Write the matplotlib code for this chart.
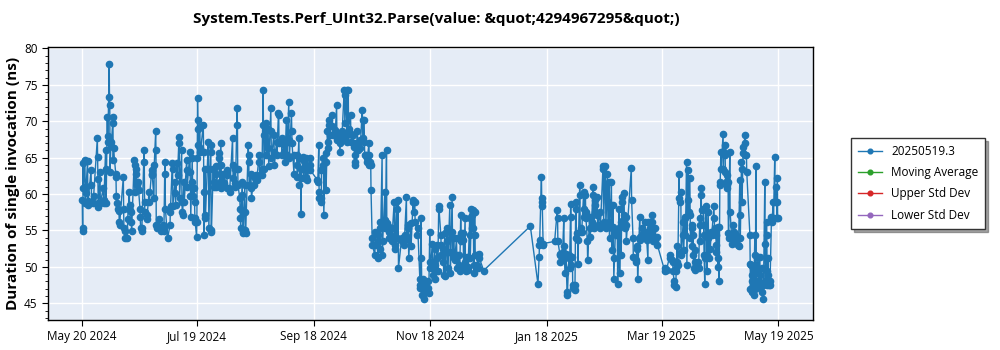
import datetime as dt
import matplotlib
matplotlib.use("Agg")
import matplotlib.pyplot as plt
import matplotlib.dates as mdates
from matplotlib.ticker import FixedLocator, MultipleLocator

plt.rcParams['font.family'] = ['Open Sans', 'DejaVu Sans']

title = 'System.Tests.Perf_UInt32.Parse(value: &quot;4294967295&quot;)'
y_label = 'Duration of single invocation (ns)'
series_labels = ['20250519.3', 'Moving Average', 'Upper Std Dev', 'Lower Std Dev']
series_colors = ['#1f77b4', '#2ca02c', '#d62728', '#9467bd']
x_tick_dates = ['2024-05-20', '2024-07-19', '2024-09-18', '2024-11-18',
                '2025-01-18', '2025-03-19', '2025-05-19']

start_date = dt.datetime(2024, 5, 20)

# Day offset (from start_date) of each batch of runs, and the durations (ns) measured in it
batch_day = [
    0.0, 1.4, 2.8, 4.6, 5.8, 7.9, 9.3, 11.0, 12.2, 13.1, 14.1, 15.0, 15.9, 17.5, 18.3, 19.2,
    21.5, 22.3, 23.6, 24.6, 25.5, 27.2, 28.1, 29.3, 30.2, 31.0, 32.3, 33.7, 34.9, 36.3, 37.5,
    38.4, 39.8, 41.1, 42.4, 43.2, 44.6, 45.9, 47.1, 48.5, 49.7, 50.6, 52.0, 53.2, 54.6, 56.3,
    57.5, 58.6, 59.8, 60.3, 61.5, 63.3, 64.1, 65.9, 67.1, 68.5, 69.9, 71.6, 72.5, 73.7, 75.5,
    76.9, 78.6, 79.8, 81.0, 82.4, 83.6, 85.0, 86.8, 88.2, 89.7, 91.1, 92.5, 93.8, 94.6, 96.0,
    97.2, 98.6, 100.2, 101.6, 102.6, 104.2, 105.6, 106.8, 108.0, 109.4, 110.7, 112.1, 113.3,
    114.3, 115.5, 116.8, 119.0, 123.0, 123.7, 124.8, 126.0, 127.2, 128.2, 129.1, 130.7, 132.1,
    133.0, 134.4, 135.6, 137.0, 138.2, 139.1, 140.3, 141.7, 142.5, 143.9, 145.2, 146.4, 147.4,
    148.6, 149.9, 150.7, 151.6, 153.0, 154.4, 155.6, 156.8, 158.2, 159.1, 160.3, 161.7, 163.1,
    164.3, 165.2, 167.0, 168.3, 169.5, 170.4, 171.8, 173.0, 173.9, 175.3, 176.5, 177.2, 178.1,
    179.1, 180.9, 181.7, 183.1, 184.3, 185.6, 186.4, 187.5, 188.7, 189.6, 190.8, 192.2, 193.4,
    194.4, 195.7, 197.1, 197.9, 199.1, 200.2, 201.4, 202.6, 203.5, 204.4, 205.2, 206.5, 207.5,
    209.9, 234.3, 238.3, 238.9, 240.1, 241.0, 247.0, 248.4, 249.7, 250.9, 251.8, 252.6, 253.5,
    254.5, 255.4, 256.3, 257.5, 258.0, 258.9, 260.1, 261.0, 262.2, 263.1, 264.1, 265.3, 266.2,
    267.1, 268.0, 269.2, 270.6, 272.3, 273.5, 274.6, 275.4, 276.7, 277.5, 278.8, 279.8, 280.7,
    281.5, 282.2, 283.3, 284.2, 287.1, 288.0, 289.2, 290.1, 291.5, 292.7, 294.1, 295.0, 295.8,
    296.7, 297.7, 299.4, 300.6, 304.6, 305.5, 307.3, 308.6, 309.5, 310.4, 311.1, 312.1, 313.0,
    314.2, 315.1, 316.0, 316.8, 317.7, 318.6, 319.4, 320.3, 322.0, 322.9, 323.5, 324.7, 325.5,
    326.4, 327.3, 328.2, 329.0, 330.3, 331.3, 332.2, 332.9, 333.4, 333.9, 335.1, 336.0, 336.9,
    337.7, 338.6, 339.5, 340.4, 341.7, 343.0, 343.8, 344.7, 345.6, 346.5, 347.3, 349.1, 349.9,
    350.8, 351.7, 352.2, 353.4, 354.3, 355.2, 356.0, 356.9, 357.8, 358.6, 359.5, 360.4, 361.3,
    362.1, 363.0, 363.5,
]

batch_ns = [
    [59.2, 55.3, 54.9, 64.2, 60.8], [64.7, 61.0, 58.8, 60.2], [64.6, 58.5, 59.0], [63.3, 61.3, 58.9],
    [58.8, 59.7], [67.7, 65.1, 62.1, 58.8, 58.2], [63.0, 58.8], [60.8, 59.2, 58.8], [66.0, 63.5, 58.8],
    [70.6, 68.0, 67.1], [77.8, 73.4, 72.3, 63.0], [67.1, 66.6], [69.7, 70.6, 64.7, 66.3],
    [62.8, 62.4, 59.8], [58.8, 57.9], [57.7, 56.2, 55.7],
    [62.4, 57.9, 55.3], [54.9, 53.9], [53.9, 56.6], [60.3, 58.5, 57.8], [57.5, 56.2, 54.9],
    [64.7, 64.0, 60.3], [63.5, 62.8, 61.7, 61.2], [61.7, 60.6], [58.0, 56.9, 55.3], [55.3, 54.9],
    [66.0, 64.4, 58.9, 57.5], [57.1, 56.6], [60.3, 58.9], [63.3, 62.8, 62.6], [59.4, 64.0],
    [68.6, 66.0, 55.7, 55.3], [55.5, 56.6], [55.3, 54.9], [55.7, 55.3, 54.9], [64.4, 62.8, 58.0],
    [53.9], [55.7, 57.5, 58.4], [64.2, 63.5, 58.4], [61.7, 60.1, 58.5], [64.2, 62.6],
    [67.9, 67.0, 59.4], [66.0, 58.9, 57.5, 57.1], [61.7, 58.9], [64.7, 63.3, 61.0],
    [65.8, 63.1, 59.8, 56.9],
    [64.9, 61.7, 59.7], [60.8, 58.9, 56.7, 56.2], [54.1, 56.2, 64.9], [73.2, 70.2, 69.0, 66.7],
    [69.2, 66.3, 65.8], [69.5, 65.8, 60.3, 54.4], [63.5, 57.1, 56.7], [67.2, 63.5, 55.3],
    [66.7, 65.8, 55.0, 54.8], [63.5, 61.7, 61.0], [63.8, 62.8, 61.0], [65.6, 64.9, 61.7],
    [67.0, 64.0, 60.8], [62.8, 61.7, 61.5], [63.3, 62.6, 60.8],
    [60.8, 60.3], [67.7, 64.0, 62.2], [63.5, 61.5, 61.0], [71.8, 69.5, 63.5, 61.2],
    [59.4, 58.0, 56.7, 55.3], [61.7, 59.9, 57.6, 54.8, 54.6], [61.2, 57.6, 55.0, 54.6],
    [66.7, 65.4, 64.4, 61.2], [62.8, 60.8, 59.4], [62.4, 61.2], [62.6, 61.9], [65.4, 64.4, 62.6],
    [63.5, 62.6], [74.3, 69.5, 68.1, 63.5], [69.7, 68.8, 65.4],
    [69.0, 66.3, 63.8], [71.8, 68.6, 64.9], [68.1, 65.8, 64.0], [67.2, 65.4], [71.1, 70.9, 67.0],
    [67.7, 65.4], [66.7, 65.8, 64.4], [70.2, 67.2, 65.4], [72.7, 67.4, 64.9], [71.1, 68.6, 67.0],
    [62.8, 65.4], [65.4, 64.0, 62.4], [67.7, 64.9, 61.2],
    [63.5, 57.3, 62.2], [65.1, 64.7, 62.2], [64.9, 64.0, 63.3, 62.4, 61.9], [64.9, 64.0, 63.3],
    [61.9, 61.7], [66.7, 60.3, 59.4], [59.4, 58.9, 63.3], [64.9, 64.0, 57.1], [65.6, 64.4, 60.5],
    [68.6, 67.2, 66.3], [70.2, 69.5, 68.1], [70.9, 69.3, 68.1], [68.8, 68.1],
    [72.2, 68.1, 67.4], [68.1, 67.0, 65.8], [68.6, 67.7], [74.3, 73.6, 69.7], [74.3, 68.1, 67.2],
    [74.3, 69.0], [70.9, 68.3, 67.2], [68.1, 67.0, 66.5], [65.4, 64.4, 64.0], [68.6, 67.0, 66.1],
    [67.4, 66.3], [71.6, 70.2, 67.7], [70.2, 67.2, 65.4],
    [65.4, 64.9, 64.4], [67.0, 65.4, 64.0], [64.4, 64.0, 60.5], [53.9, 53.0], [51.6, 53.0, 54.8],
    [54.4, 53.5, 51.2], [55.3, 56.2, 52.5], [65.4, 51.6, 53.5], [60.3, 56.4, 55.3],
    [66.1, 56.0, 55.7], [55.5, 54.8, 53.9], [54.4, 53.5], [58.9, 55.3, 53.0, 52.5],
    [58.9, 58.0, 53.9], [59.2, 49.8], [53.9, 53.5], [53.0, 53.5, 54.4], [59.6, 54.1],
    [55.7, 55.3, 51.2], [56.0, 52.8], [59.2, 58.9, 57.6], [58.9, 56.2], [54.4, 55.3],
    [48.4, 47.5, 47.1], [56.7, 51.2, 48.0, 46.1], [48.4, 47.1, 46.1, 45.6],
    [47.1, 47.5, 46.6], [48.0, 47.1, 46.4], [54.8, 50.7, 49.8], [53.2, 49.8, 48.9],
    [52.5, 50.2, 48.4], [53.0, 51.2, 49.4], [58.3, 58.0], [54.4, 53.0, 51.6], [52.5, 50.7, 48.9],
    [54.6, 52.1, 48.7], [55.3, 53.5, 49.8], [58.5, 52.1, 49.1], [59.6, 54.8, 51.6],
    [53.9, 51.2, 50.9], [53.9, 51.6, 49.8], [51.6, 50.2, 49.4], [57.1, 54.6, 53.5],
    [54.6, 53.7, 49.8], [56.7, 50.7, 49.4], [51.4, 50.0, 49.6], [56.7, 54.4, 51.2],
    [58.0, 57.1, 55.3], [57.8, 55.3, 50.2, 49.1], [57.6, 54.4, 51.6], [51.6, 50.2, 49.8],
    [51.8, 51.2],
    [49.5], [55.6], [47.6], [51.4, 53.0, 53.7], [62.4, 59.4, 58.9, 58.3], [53.0, 53.2], [53.5],
    [57.8, 56.7, 53.5], [51.8, 51.6, 50.7], [51.4, 51.2, 52.1], [56.7, 52.8], [49.1, 51.8, 51.6],
    [46.6, 46.1],
    [51.6, 51.2, 49.8], [58.7, 56.9, 50.2], [51.4, 47.5, 47.1], [46.8, 47.5], [58.0, 58.9, 53.9],
    [54.6, 53.7, 50.4], [61.2, 59.9, 54.8], [55.3, 54.8], [60.3, 58.0, 56.9], [59.9, 57.6, 56.7],
    [53.5, 50.9], [56.9, 55.3, 54.1], [56.9, 56.2],
    [61.0, 59.9, 55.3], [59.2, 58.5, 57.6], [59.6, 57.1, 55.7], [57.6, 55.7, 55.3],
    [63.8, 63.5, 56.2], [63.8, 61.0, 55.3], [62.8, 58.9, 55.7], [61.7, 56.2, 53.9],
    [61.7, 55.3, 52.3], [58.5, 55.5, 51.2, 48.4], [55.0, 54.4], [54.8, 47.7], [58.0, 55.3, 49.1],
    [56.2, 55.7, 51.6], [59.6, 58.9, 56.4], [60.1, 57.1, 55.3], [56.9, 55.7, 53.5], [63.6, 59.2],
    [53.9, 51.4], [51.2, 50.9, 50.7], [52.8, 52.5, 48.4], [56.9, 54.1, 53.7], [55.3, 54.4],
    [56.2, 54.8, 54.1], [54.4, 53.7], [50.9, 56.2],
    [56.2, 55.3, 53.9], [57.1, 56.2, 55.3, 54.8, 53.5], [55.3, 54.1, 53.5], [54.1, 53.0],
    [49.4, 49.8], [49.6], [51.6, 51.2], [50.9, 50.7, 49.4], [48.0, 47.5], [47.3, 49.8, 49.4],
    [52.8, 50.7, 50.2], [62.8, 59.4, 58.9], [60.3, 52.1, 51.6],
    [56.2, 54.4, 52.3], [56.9, 56.7, 54.4], [64.4, 50.2], [63.3, 59.2, 57.6], [62.2, 57.1, 53.9],
    [55.7, 55.3, 52.8], [54.4, 51.6, 49.8], [52.3, 50.7, 49.6], [50.7, 50.0, 49.8],
    [56.7, 55.7, 53.5], [60.8, 59.9, 57.8], [58.0, 55.7, 54.4, 51.6], [47.7, 51.2, 58.0],
    [58.3, 51.6, 49.4], [57.6, 53.9, 51.2], [54.4, 52.5], [54.8, 54.4], [58.3, 56.7, 55.3],
    [54.4, 53.0, 52.1], [55.5, 51.2, 50.0], [55.5, 48.0], [61.7, 61.2], [65.8, 63.5],
    [68.3, 63.5, 65.8], [66.7, 65.4, 63.1, 61.7], [62.6, 61.2, 60.8],
    [61.7, 54.6, 53.9], [65.8, 57.6], [54.4, 53.2], [55.7, 54.8, 53.9], [54.4, 53.7],
    [53.0, 52.8], [61.9, 57.1, 53.9], [64.4, 63.5, 58.9], [66.5, 65.6], [68.1, 67.0, 65.4],
    [65.4, 63.1], [54.4, 50.4, 46.9], [50.2, 48.9, 48.0, 46.6],
    [49.8, 47.5, 46.1], [54.4, 51.6, 46.9], [63.8, 48.0], [51.4, 49.4, 47.5], [51.4, 48.9, 47.1],
    [49.8, 47.5, 46.6], [47.5, 45.6], [61.7, 53.2, 48.0], [56.2, 54.4, 49.4, 47.5],
    [51.2, 48.9, 47.5], [47.5, 48.0], [56.9, 56.7, 56.2], [58.9, 56.7],
    [65.1, 58.9], [61.0, 58.9, 56.7], [62.2, 56.7],
]

# Runs inside one batch are a few hours apart
run_gap_days = 0.15

base = mdates.date2num(start_date)
xs, ys = [], []
for day, values in zip(batch_day, batch_ns):
    for k, v in enumerate(values):
        xs.append(base + day + k * run_gap_days)
        ys.append(v)

fig = plt.figure(figsize=(10, 3.5), dpi=100)
ax = fig.add_axes([0.048, 0.0857, 0.765, 0.781])
ax.set_facecolor('#E5ECF6')

ax.plot(xs, ys, color=series_colors[0], lw=1.0, marker='o', markersize=4.5,
        label=series_labels[0], zorder=3)
for lbl, col in zip(series_labels[1:], series_colors[1:]):
    ax.plot([], [], color=col, lw=1.0, marker='o', markersize=4.5, label=lbl)

# Axis ranges
ax.set_xlim(base - 17.9, base + 382.1)
ax.set_ylim(42.7, 80.25)

tick_nums = [mdates.date2num(dt.datetime.strptime(d, '%Y-%m-%d')) for d in x_tick_dates]
ax.xaxis.set_major_locator(FixedLocator(tick_nums))
ax.set_xticklabels([dt.datetime.strptime(d, '%Y-%m-%d').strftime('%b %d %Y') for d in x_tick_dates])
ax.yaxis.set_major_locator(MultipleLocator(5))
ax.yaxis.set_minor_locator(MultipleLocator(1))

ax.grid(True, which='major', color='white', lw=1.0)
ax.set_axisbelow(True)
for s in ax.spines.values():
    s.set_color('black')
    s.set_linewidth(1.0)
ax.tick_params(axis='both', which='major', labelsize=8.5, length=4, direction='out', colors='black')
ax.tick_params(axis='y', which='minor', length=2.5)

ax.set_ylabel(y_label, fontsize=11, fontweight='bold', labelpad=3)
fig.text(0.436, 0.945, title, ha='center', va='center', fontsize=11, fontweight='bold')

leg = ax.legend(loc='upper left', bbox_to_anchor=(0.845, 0.623), bbox_transform=fig.transFigure,
                fontsize=8.5, frameon=True, fancybox=False, shadow=True, edgecolor='#333333',
                handlelength=2.0, borderpad=0.6, labelspacing=0.7, markerscale=0.75)
leg.get_frame().set_linewidth(1.0)

fig.savefig('out.png', dpi=100, facecolor='white')
